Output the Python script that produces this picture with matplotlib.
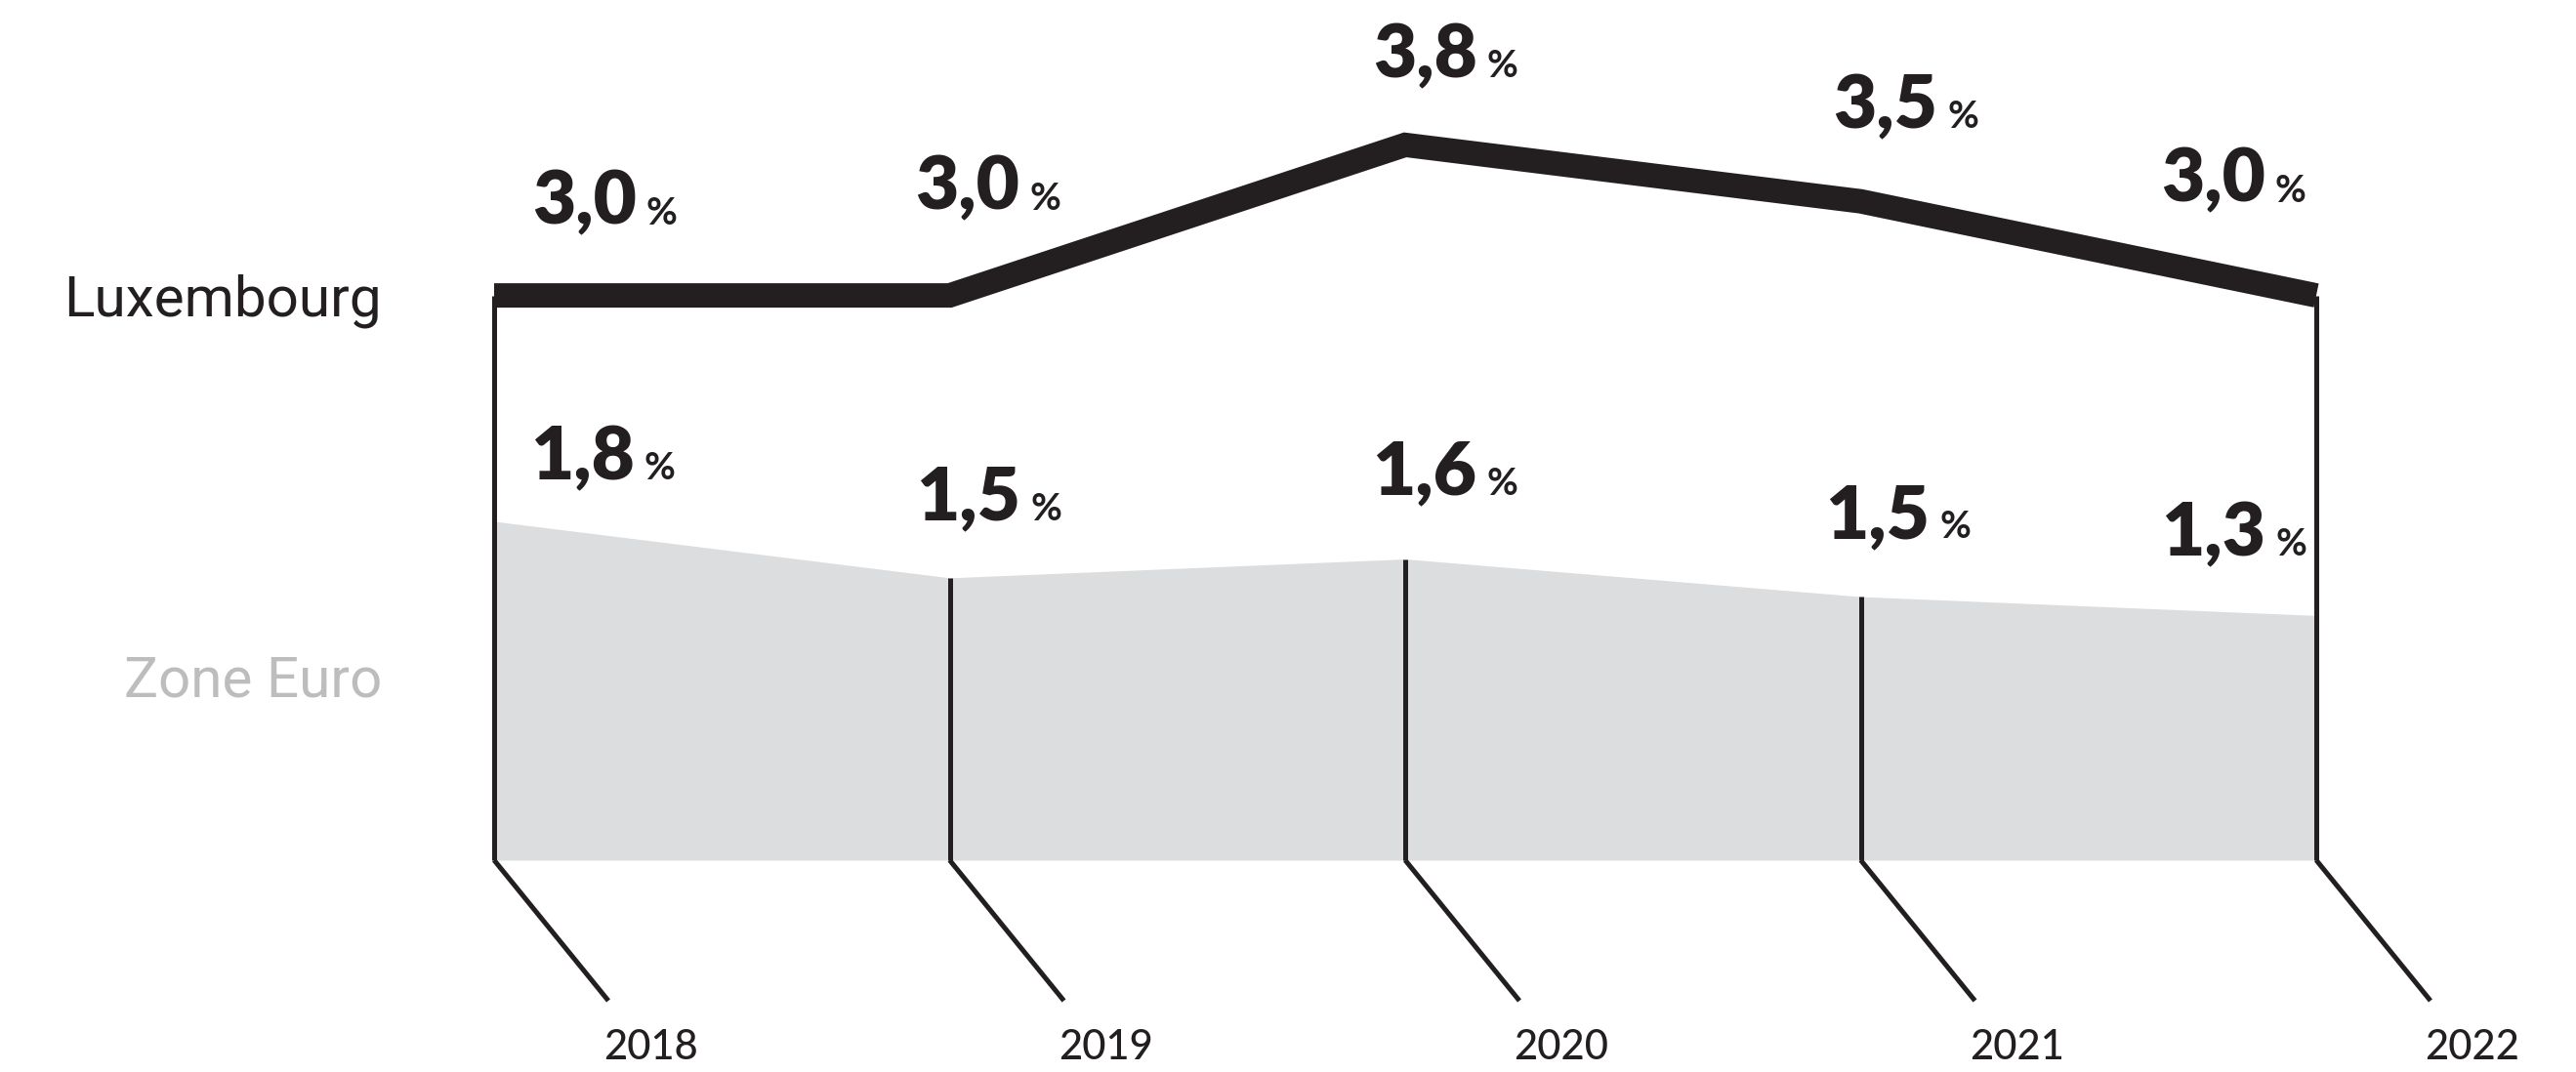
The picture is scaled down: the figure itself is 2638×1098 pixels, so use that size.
import matplotlib
matplotlib.use("Agg")
import matplotlib.pyplot as plt
from matplotlib.transforms import IdentityTransform

# ---- data ----
years = ["2018", "2019", "2020", "2021", "2022"]
lux = [3.0, 3.0, 3.8, 3.5, 3.0]
zone = [1.8, 1.5, 1.6, 1.4, 1.3]   # plotted heights as drawn in the picture
lux_labels = ["3,0", "3,0", "3,8", "3,5", "3,0"]
zone_labels = ["1,8", "1,5", "1,6", "1,5", "1,3"]
series_names = ["Luxembourg", "Zone Euro"]

# ---- label offsets (pixels: dx right, dy up from data point to text baseline) ----
lux_off = [(39, 73), (-35, 88), (-33, 69), (-28, 75), (-159, 96)]
zone_off = [(37, 43), (-34, 59), (-34, 66), (-36, 60), (-159, 61)]

DARK = "#231F20"
FILL = "#DCDDDF"
GREY_TXT = "#BDBDBD"
FONT = "Lato"
NAME_FONT = "Roboto"

W, H, DPI = 2638, 1098, 100
fig = plt.figure(figsize=(W / DPI, H / DPI), dpi=DPI)
ax = fig.add_axes([0, 0, 1, 1])
ax.set_axis_off()

x0_px, step_px = 506, 466.5
base_px, unit_px = 881, 192.8
ax.set_xlim(-x0_px / step_px, (W - x0_px) / step_px)
ax.set_ylim(-(H - base_px) / unit_px, base_px / unit_px)

idx = list(range(len(years)))

# zone euro fill
ax.fill_between(idx, 0, zone, color=FILL, lw=0, zorder=1)

# vertical lines
tops = [lux[0]] + zone[1:-1] + [lux[-1]]
ax.vlines(idx, 0, tops, color=DARK, lw=3.6, zorder=2)

# diagonal ticks and year labels
ddx, ddy = 117 / step_px, -144 / unit_px
for i, yr in zip(idx, years):
    ax.plot([i, i + ddx], [0, ddy], color=DARK, lw=3.6, solid_capstyle="butt", zorder=2)
    ax.text(i + 160 / step_px, -(1085 - base_px) / unit_px, yr, ha="center", va="baseline",
            fontsize=30, color=DARK, family=FONT, fontweight="medium")

# luxembourg line
ax.plot(idx, lux, color=DARK, lw=18, solid_joinstyle="miter", solid_capstyle="butt", zorder=3)

# series names
fig.text(391 / W, 1 - 324 / H, series_names[0], ha="right", va="baseline",
         fontsize=42, color=DARK, family=NAME_FONT, fontweight="normal")
fig.text(391 / W, 1 - 714 / H, series_names[1], ha="right", va="baseline",
         fontsize=42, color=GREY_TXT, family=NAME_FONT, fontweight="normal")

# value labels
fig.canvas.draw()
renderer = fig.canvas.get_renderer()
for vals, labs, offs in [(lux, lux_labels, lux_off), (zone, zone_labels, zone_off)]:
    for i, v, lab, (dx, dy) in zip(idx, vals, labs, offs):
        px, py = ax.transData.transform((i, v))
        t = ax.text(px + dx, py + dy, lab, transform=IdentityTransform(), ha="left",
                    va="baseline", fontsize=55, fontweight="heavy", color=DARK, family=FONT)
        bb = t.get_window_extent(renderer)
        ax.text(bb.x1 + 10, py + dy, "%", transform=IdentityTransform(), ha="left",
                va="baseline", fontsize=28, fontweight="bold", color=DARK, family=FONT)

fig.savefig("out.png", dpi=DPI)
